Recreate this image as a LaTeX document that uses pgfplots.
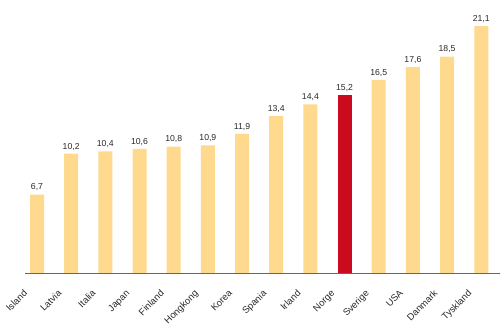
\documentclass[border=0pt]{standalone}
\usepackage{pgfplots}
\pgfplotsset{compat=1.18}
\usepackage{fontspec}
\setmainfont{Liberation Sans}
\definecolor{barc}{RGB}{255,217,142}
\definecolor{redc}{RGB}{204,10,30}
\definecolor{txt}{RGB}{40,40,40}
\begin{document}
\begin{tikzpicture}[x=1bp,y=1bp]
\useasboundingbox (0,0) rectangle (500,332);
\begin{axis}[
  at={(37bp,59bp)}, anchor=origin,
  scale only axis, width=475bp, height=273bp,
  xmin=-0.35, xmax=13.55, ymin=0, ymax=23.33,
  axis lines=none,
  clip=false,
  ybar, bar width=14bp, bar shift=0pt,
  nodes near coords,
  every node near coord/.append style={font=\fontsize{8.7}{10}\selectfont, text=txt, yshift=0bp,
    /pgf/number format/assume math mode=true,
    /pgf/number format/use comma, /pgf/number format/fixed,
    /pgf/number format/fixed zerofill, /pgf/number format/precision=1},
]
\addplot[fill=barc, draw=none] coordinates {(0,6.7) (1,10.2) (2,10.4) (3,10.6) (4,10.8) (5,10.9) (6,11.9) (7,13.4) (8,14.4) (10,16.5) (11,17.6) (12,18.5) (13,21.1)};
\addplot[fill=redc, draw=none] coordinates {(9,15.2)};
\draw[gray!80!black, line width=0.9bp] (axis cs:-0.35,0) -- (axis cs:13.55,0);
\foreach \i/\n in {0/Island,1/Latvia,2/Italia,3/Japan,4/Finland,5/Hongkong,6/Korea,7/Spania,8/Irland,9/Norge,10/Sverige,11/USA,12/Danmark,13/Tyskland}{
  \edef\tmp{\noexpand\node[rotate=45, anchor=north east, font=\noexpand\fontsize{9.5}{11}\noexpand\selectfont, text=txt, inner sep=0bp] at ([xshift=-14bp,yshift=-16bp]axis cs:\i,0) {\n};}
  \tmp
}
\end{axis}
\end{tikzpicture}
\end{document}
